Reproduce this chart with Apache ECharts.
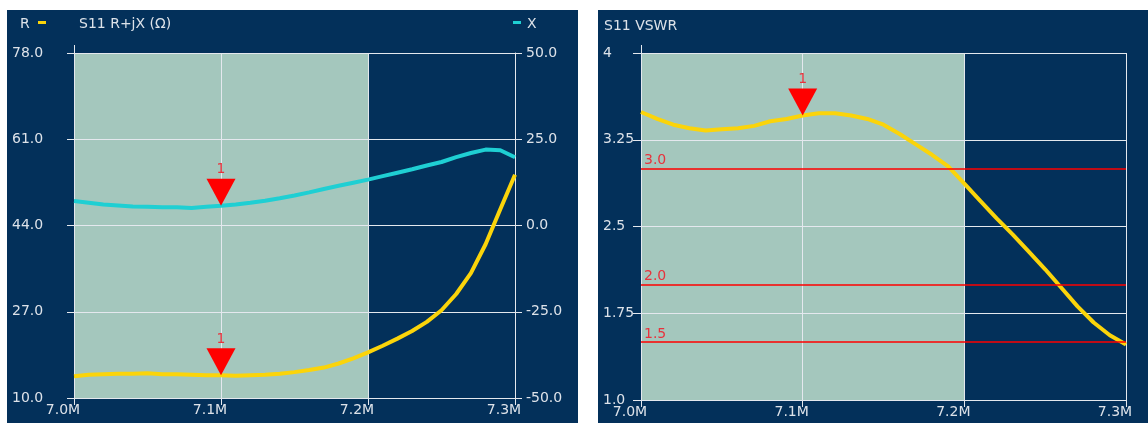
<!DOCTYPE html>
<html>
<head>
<meta charset="utf-8">
<script src="https://cdn.jsdelivr.net/npm/echarts@6/dist/echarts.min.js"></script>
<style>
  html, body { margin: 0; padding: 0; background: #ffffff; width: 1148px; height: 423px; overflow: hidden; }
  .panel { position: absolute; background: #03305a; }
  #rx { left: 7px; top: 10px; width: 571px; height: 413px; }
  #swr { left: 598px; top: 10px; width: 550px; height: 413px; }
</style>
</head>
<body>
<div id="rx" class="panel"></div>
<div id="swr" class="panel"></div>
<script>
// Sweep frequencies (MHz)
const freqs = [7.00, 7.01, 7.02, 7.03, 7.04, 7.05, 7.06, 7.07, 7.08, 7.09,
               7.10, 7.11, 7.12, 7.13, 7.14, 7.15, 7.16, 7.17, 7.18, 7.19,
               7.20, 7.21, 7.22, 7.23, 7.24, 7.25, 7.26, 7.27, 7.28, 7.29, 7.30];
// Resistance R (ohms)
const resistance = [14.3, 14.6, 14.7, 14.8, 14.8, 14.9, 14.7, 14.7, 14.6, 14.5,
                    14.5, 14.4, 14.5, 14.6, 14.8, 15.1, 15.5, 16.0, 16.8, 17.8,
                    19.0, 20.3, 21.7, 23.2, 25.0, 27.3, 30.5, 34.6, 40.3, 47.2, 54.0];
// Reactance X (ohms)
const reactance = [7.1, 6.6, 6.1, 5.8, 5.5, 5.4, 5.3, 5.3, 5.1, 5.4,
                   5.7, 6.1, 6.6, 7.2, 7.9, 8.7, 9.6, 10.6, 11.5, 12.4,
                   13.3, 14.3, 15.3, 16.3, 17.4, 18.4, 19.8, 21.0, 22.0, 21.8, 19.8];
// VSWR
const vswr = [3.49, 3.43, 3.38, 3.35, 3.33, 3.34, 3.35, 3.37, 3.41, 3.43,
              3.46, 3.48, 3.48, 3.46, 3.43, 3.38, 3.30, 3.21, 3.12, 3.02,
              2.87, 2.72, 2.57, 2.43, 2.28, 2.13, 1.97, 1.81, 1.67, 1.56, 1.48];
// Marker 1 frequency
const markerFreq = 7.10;
const markerLabel = '1';
// VSWR reference lines
const swrRefLevels = [3.0, 2.0, 1.5];
const swrRefLabels = ['3.0', '2.0', '1.5'];
// VSWR axis tick labels
const swrTickLabels = ['1.0', '1.75', '2.5 ', '3.25', '4'];
// Span boundary of the highlighted band
const bandStart = 7.0, bandEnd = 7.2;

const NAVY = '#03305a';
const BAND = '#a4c7bd';
const GRID = '#e4e8ee';
const TXT = '#dde2e9';
const YEL = '#fbd40a';
const CYAN = '#1fcfd3';
const RED = '#ff0000';
const RED_TXT = '#e8323c';
const FONT = 'DejaVu Sans';
const FS = 14;

const pairs = (ys) => freqs.map((f, i) => [f, ys[i]]);
const idxAt = (f) => freqs.findIndex(v => Math.abs(v - f) < 1e-9);
const mIdx = idxAt(markerFreq);

// Band colours per x interval: [7.0-7.1], [7.1-7.2], [7.2-7.3]
const bandColors = [];
for (let f = 7.0; f < 7.3 - 1e-9; f += 0.1) {
  bandColors.push(f >= bandStart - 1e-9 && f < bandEnd - 1e-9 ? BAND : 'rgba(0,0,0,0)');
}

const marker = (value) => ({
  symbol: 'path://M0,0 L2,0 L1,2 Z',
  symbolSize: [29, 27],
  symbolOffset: [0, -13.5],
  itemStyle: { color: RED },
  label: { show: true, formatter: markerLabel, position: 'top', distance: 2,
           color: RED_TXT, fontFamily: FONT, fontSize: FS },
  data: [{ coord: [markerFreq, value] }]
});

const xAxisBase = (labelPad) => ({
  type: 'value', min: 7.0, max: 7.3, interval: 0.1, z: 1,
  axisLine: { show: true, onZero: false, lineStyle: { color: GRID, width: 1 } },
  axisTick: { show: true, length: 7, lineStyle: { color: GRID } },
  axisLabel: { color: TXT, fontFamily: FONT, fontSize: FS, margin: 5,
               padding: [0, labelPad, 0, 0],
               formatter: v => v.toFixed(1) + 'M' },
  splitLine: { show: true, lineStyle: { color: GRID, width: 1 } },
  splitArea: { show: true, areaStyle: { color: bandColors } }
});

const textStyle = (t) => ({ text: t, fill: TXT, font: FS + 'px "DejaVu Sans"' });

// ---------- R + jX ----------
const rxChart = echarts.init(document.getElementById('rx'), null, { renderer: 'canvas' });
rxChart.setOption({
  animation: false,
  backgroundColor: NAVY,
  grid: { left: 67, right: 63, top: 43, bottom: 25 },
  xAxis: xAxisBase(22),
  yAxis: [
    { type: 'value', min: 10, max: 78, interval: 17, position: 'left', z: 2,
      axisLine: { show: true, lineStyle: { color: GRID } },
      axisTick: { show: true, length: 7, lineStyle: { color: GRID } },
      axisLabel: { color: TXT, fontFamily: FONT, fontSize: FS, align: 'left', margin: 62,
                   formatter: v => v.toFixed(1) },
      splitLine: { show: true, lineStyle: { color: GRID, width: 1 } } },
    { type: 'value', min: -50, max: 50, interval: 25, position: 'right', z: 2,
      axisLine: { show: true, lineStyle: { color: GRID } },
      axisTick: { show: true, length: 7, lineStyle: { color: GRID } },
      axisLabel: { color: TXT, fontFamily: FONT, fontSize: FS, margin: 11,
                   formatter: v => v.toFixed(1) },
      splitLine: { show: false } }
  ],
  graphic: [
    { type: 'text', left: 13, top: 7, style: textStyle('R') },
    { type: 'rect', shape: { x: 31, y: 11, width: 8, height: 3 }, style: { fill: YEL } },
    { type: 'text', left: 72, top: 7, style: textStyle('S11 R+jX (Ω)') },
    { type: 'rect', shape: { x: 506, y: 11, width: 8, height: 3 }, style: { fill: CYAN } },
    { type: 'text', left: 520, top: 7, style: textStyle('X') },
    { type: 'line', shape: { x1: 67.5, y1: 35, x2: 67.5, y2: 43 }, style: { stroke: GRID, lineWidth: 1 } }
  ],
  series: [
    { name: 'R', type: 'line', yAxisIndex: 0, data: pairs(resistance), showSymbol: false,
      lineStyle: { color: YEL, width: 4 }, itemStyle: { color: YEL }, z: 3,
      markPoint: marker(resistance[mIdx]) },
    { name: 'X', type: 'line', yAxisIndex: 1, data: pairs(reactance), showSymbol: false,
      lineStyle: { color: CYAN, width: 4 }, itemStyle: { color: CYAN }, z: 3,
      markPoint: marker(reactance[mIdx]) }
  ]
});

// ---------- VSWR ----------
const swrChart = echarts.init(document.getElementById('swr'), null, { renderer: 'canvas' });
swrChart.setOption({
  animation: false,
  backgroundColor: NAVY,
  grid: { left: 43, right: 22, top: 43, bottom: 23 },
  xAxis: xAxisBase(22),
  yAxis: { type: 'value', min: 1, max: 4, interval: 0.75, z: 2,
    axisLine: { show: true, lineStyle: { color: GRID } },
    axisTick: { show: true, length: 8, lineStyle: { color: GRID } },
    axisLabel: { color: TXT, fontFamily: FONT, fontSize: FS, align: 'left', margin: 38,
                 formatter: (v) => swrTickLabels[Math.round((v - 1) / 0.75)] },
    splitLine: { show: true, lineStyle: { color: GRID, width: 1 } } },
  graphic: [
    { type: 'text', left: 6, top: 9, style: textStyle('S11 VSWR') },
    { type: 'line', shape: { x1: 43.5, y1: 35, x2: 43.5, y2: 43 }, style: { stroke: GRID, lineWidth: 1 } }
  ],
  series: [
    { name: 'VSWR', type: 'line', data: pairs(vswr), showSymbol: false,
      lineStyle: { color: YEL, width: 4 }, itemStyle: { color: YEL }, z: 3,
      markPoint: marker(vswr[mIdx]),
      markLine: {
        silent: true, symbol: 'none',
        lineStyle: { color: RED, width: 1.5, type: 'solid' },
        label: { show: true, position: 'insideStartTop', formatter: '{b}', distance: [3, 1],
                 color: RED_TXT, fontFamily: FONT, fontSize: FS },
        data: swrRefLevels.map((v, i) => ({ yAxis: v, name: swrRefLabels[i] }))
      } }
  ]
});
</script>
</body>
</html>
